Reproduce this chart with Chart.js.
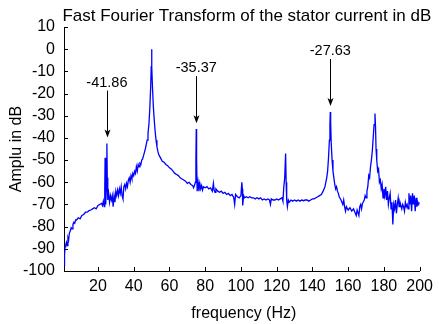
<!DOCTYPE html>
<html>
<head>
<meta charset="utf-8">
<script src="https://cdn.jsdelivr.net/npm/chart.js@4.4.1/dist/chart.umd.min.js"></script>
<style>
html,body{margin:0;padding:0;background:#fff;}
#wrap{width:439px;height:324px;position:relative;}
</style>
</head>
<body>
<div id="wrap"><canvas id="c" width="439" height="324"></canvas></div>
<script>
const titleText = "Fast Fourier Transform of the stator current in dB";
const xLabel = "frequency (Hz)";
const yLabel = "Amplu in dB";
const xTicks = [20, 40, 60, 80, 100, 120, 140, 160, 180, 200];
const yTicks = [-100, -90, -80, -70, -60, -50, -40, -30, -20, -10, 0, 10];

const freq = [
 1.0, 1.3, 1.6, 2.0, 2.4, 2.8, 3.2, 3.6, 4.0, 4.5, 5.0, 5.5, 6.0, 6.5, 7.0, 7.5, 8.0, 9.0, 10, 11,
 12, 13, 14, 15, 16, 17, 18, 19, 20, 21, 22, 22.5, 23, 23.5, 23.8, 24.0, 24.2, 24.5, 24.8, 25.0,
 25.2, 25.5, 26, 26.5, 27, 27.5, 28, 28.5, 29, 29.5, 30, 30.5, 31, 31.5, 32, 32.5, 33, 33.5, 34, 34.5,
 35, 35.5, 36, 36.5, 37, 37.5, 38, 38.5, 39, 39.5, 40, 40.5, 41, 41.5, 42, 42.5, 43, 43.5, 44, 44.5,
 45, 45.5, 46, 46.5, 47, 47.5, 48, 48.5, 49, 49.5, 49.8, 50, 50.2, 50.5, 51, 51.5, 52, 52.5, 53, 53.5,
 54, 55, 56, 57, 58, 59, 60, 61, 62, 63, 64, 65, 66, 67, 68, 69, 70, 71, 72, 73,
 73.5, 74, 74.5, 74.8, 75, 75.2, 75.5, 76, 76.5, 77, 77.5, 78, 78.5, 79, 80, 81, 82, 83, 84, 84.6,
 85, 85.5, 86, 87, 88, 89, 90, 91, 92, 93, 94, 95, 96, 96.5, 97, 98, 99, 100, 100.5, 100.8,
 101, 101.5, 102, 103, 104, 105, 106, 107, 108, 109, 110, 111, 112, 113, 114, 115, 116, 116.5, 117, 118,
 119, 120, 121, 122, 123, 123.5, 124, 124.5, 125, 125.3, 125.6, 126, 126.5, 127, 128, 129, 130, 131, 132, 133,
 134, 135, 136, 137, 138, 139, 140, 141, 142, 143, 144, 145, 146, 147, 147.5, 148, 148.5, 149, 149.5, 149.8,
 150, 150.2, 150.5, 151, 151.5, 152, 152.5, 153, 153.5, 154, 154.5, 155, 156, 157, 157.5, 158, 158.5, 159, 160, 161,
 162, 163, 164, 164.5, 165, 166, 166.5, 167, 167.5, 168, 169, 169.5, 170, 170.5, 171, 171.5, 172, 172.5, 173, 173.5,
 174, 174.5, 175, 175.3, 175.6, 176, 176.5, 177, 177.5, 178, 178.5, 179, 179.5, 180, 180.5, 181, 181.5, 182, 182.5, 183,
 183.5, 184, 184.5, 185, 185.5, 186, 186.5, 187, 187.5, 188, 188.5, 189, 190, 190.5, 191, 191.5, 192, 192.5, 193, 193.5,
 194, 194.5, 195, 195.5, 196, 196.5, 197, 197.5, 198, 198.5, 199, 199.5, 200
];
const amp = [
 -97.5, -93, -89, -88, -87, -88.5, -85, -86, -83, -82, -80.5, -81, -79, -78, -78.5, -77, -77, -76, -76.5, -75,
 -74.5, -73.5, -73.5, -72.8, -72.5, -72, -71.5, -72, -70.5, -70, -69.5, -70.5, -68.5, -71, -63, -49, -66, -70, -60, -42.5,
 -58, -68, -65, -69, -66, -68, -66, -71, -66, -69, -64, -66, -63.5, -66, -63, -65, -62, -66, -67.5, -62,
 -61, -63, -60.5, -62, -59, -58, -60, -57, -58.5, -56, -57, -55, -56, -53, -55, -52, -53, -51.5, -52, -50,
 -49.5, -48, -46.5, -45, -43, -41, -38, -34, -27, -17, -8, 0, -8, -17, -26, -32, -37, -41, -44, -46,
 -47.5, -49, -50.5, -51, -52, -52.5, -53.5, -54, -55, -56, -56.5, -57, -58, -58.5, -59, -59.5, -60.5, -60, -61, -61.5,
 -62.5, -61.5, -60, -50, -36, -50, -64, -60, -64, -60.5, -63, -61.5, -63.5, -62, -62.5, -62, -63, -62.5, -64, -60.5,
 -63.5, -64.5, -63, -64, -64.5, -64, -65, -64.5, -65.5, -65, -66, -65.5, -67, -70, -65.5, -66.5, -67, -66, -60, -63,
 -70.5, -66, -67, -66.5, -67, -66.5, -67, -67, -67.5, -67, -67.5, -67, -68, -67.5, -68, -67.5, -68, -70, -67.5, -68,
 -68, -67.5, -68, -67.5, -67, -68.5, -62, -58, -47, -60, -68, -71, -68, -69, -68, -68.5, -68, -68.5, -68, -68.5,
 -68, -68.3, -68, -68, -68.5, -68, -67.5, -67.5, -67, -66.5, -66, -65.5, -64, -62, -60, -58, -55, -49, -41, -34,
 -28.3, -33, -42, -50, -55, -58, -61, -63, -62, -64, -65, -66.5, -68, -70, -68, -71, -73, -71, -72.5, -71.5,
 -73, -72, -74, -75, -72.5, -75, -71, -70, -72, -69.5, -68, -66, -67, -64, -62, -57, -58, -53, -50, -46,
 -40, -34, -29, -35, -45, -50, -55, -54, -60, -59, -63, -61, -67, -63, -66, -62, -68, -64, -70, -67,
 -65, -72, -69, -79, -70, -72, -68, -74, -70, -67, -71, -69, -72, -70, -71, -73, -69, -71, -70, -72,
 -65, -70, -66, -73, -65, -70, -66, -73, -67, -71, -69, -70, -69
];

const annFreq = [25, 75, 150];
const annVal = [-41.86, -35.37, -27.63];
const annText = ["-41.86", "-35.37", "-27.63"];

const FONT = "'Liberation Sans', Arial, Helvetica, sans-serif";

const points = freq.map((f, i) => ({x: f, y: amp[i]}));

const decor = {
  id: 'decor',
  afterDraw(chart) {
    const ctx = chart.ctx;
    const xs = chart.scales.x, ys = chart.scales.y;
    const a = chart.chartArea;
    ctx.save();
    // inward tick marks
    ctx.strokeStyle = '#000';
    ctx.lineWidth = 1;
    ctx.beginPath();
    yTicks.forEach(v => {
      const py = Math.round(ys.getPixelForValue(v)) + 0.5;
      ctx.moveTo(a.left, py); ctx.lineTo(a.left + 4, py);
    });
    xTicks.forEach(v => {
      const px = Math.round(xs.getPixelForValue(v)) + 0.5;
      ctx.moveTo(px, a.bottom); ctx.lineTo(px, a.bottom - 4);
    });
    ctx.stroke();

    // title
    ctx.fillStyle = '#000';
    ctx.font = "17px " + FONT;
    ctx.textAlign = 'center';
    ctx.textBaseline = 'alphabetic';
    ctx.fillText(titleText, (a.left + a.right) / 2 + 5, 21);

    // axis titles
    ctx.font = "16px " + FONT;
    ctx.fillText(xLabel, (a.left + a.right) / 2 + 2, 318);
    ctx.save();
    ctx.translate(17, (a.top + a.bottom) / 2);
    ctx.rotate(-Math.PI / 2);
    ctx.textBaseline = 'middle';
    ctx.fillText(yLabel, 0, 0);
    ctx.restore();

    // annotations
    ctx.font = "14.5px " + FONT;
    annFreq.forEach((f, i) => {
      const px = xs.getPixelForValue(f);
      const py = ys.getPixelForValue(annVal[i]);
      const ty = py - 59.5;
      ctx.fillStyle = '#000';
      ctx.textAlign = 'center';
      ctx.textBaseline = 'middle';
      ctx.fillText(annText[i], px, ty);
      const x0 = Math.round(px) + 0.5;
      const yStart = ty + 8, yEnd = py - 4.5;
      ctx.beginPath();
      ctx.moveTo(x0, yStart); ctx.lineTo(x0, yEnd - 6);
      ctx.stroke();
      ctx.beginPath();
      ctx.moveTo(x0 - 3, yEnd - 8);
      ctx.lineTo(x0, yEnd);
      ctx.lineTo(x0 + 3, yEnd - 8);
      ctx.lineTo(x0, yEnd - 6);
      ctx.closePath();
      ctx.fill();
    });
    ctx.restore();
  }
};

new Chart(document.getElementById('c'), {
  type: 'line',
  data: {
    datasets: [{
      data: points,
      borderColor: '#0000ff',
      borderWidth: 1.3,
      pointRadius: 0,
      tension: 0,
      fill: false
    }]
  },
  options: {
    responsive: false,
    animation: false,
    devicePixelRatio: 1,
    parsing: false,
    layout: {padding: {left: 0, right: 14, top: 27, bottom: 0}},
    plugins: {legend: {display: false}, tooltip: {enabled: false}, title: {display: false}},
    scales: {
      x: {
        type: 'linear',
        min: 1,
        max: 200,
        afterBuildTicks(s) { s.ticks = xTicks.map(v => ({value: v})); },
        afterFit(s) { s.height = 53; },
        grid: {display: false, drawTicks: false},
        border: {display: true, color: '#000', width: 1},
        ticks: {color: '#000', font: {family: FONT, size: 16}, padding: 6, maxRotation: 0, autoSkip: false}
      },
      y: {
        type: 'linear',
        min: -100,
        max: 10,
        afterBuildTicks(s) { s.ticks = yTicks.map(v => ({value: v})); },
        afterFit(s) { s.width = 64; },
        grid: {display: false, drawTicks: false},
        border: {display: true, color: '#000', width: 1},
        ticks: {color: '#000', font: {family: FONT, size: 16}, padding: 9, autoSkip: false}
      }
    }
  },
  plugins: [decor]
});
</script>
</body>
</html>
